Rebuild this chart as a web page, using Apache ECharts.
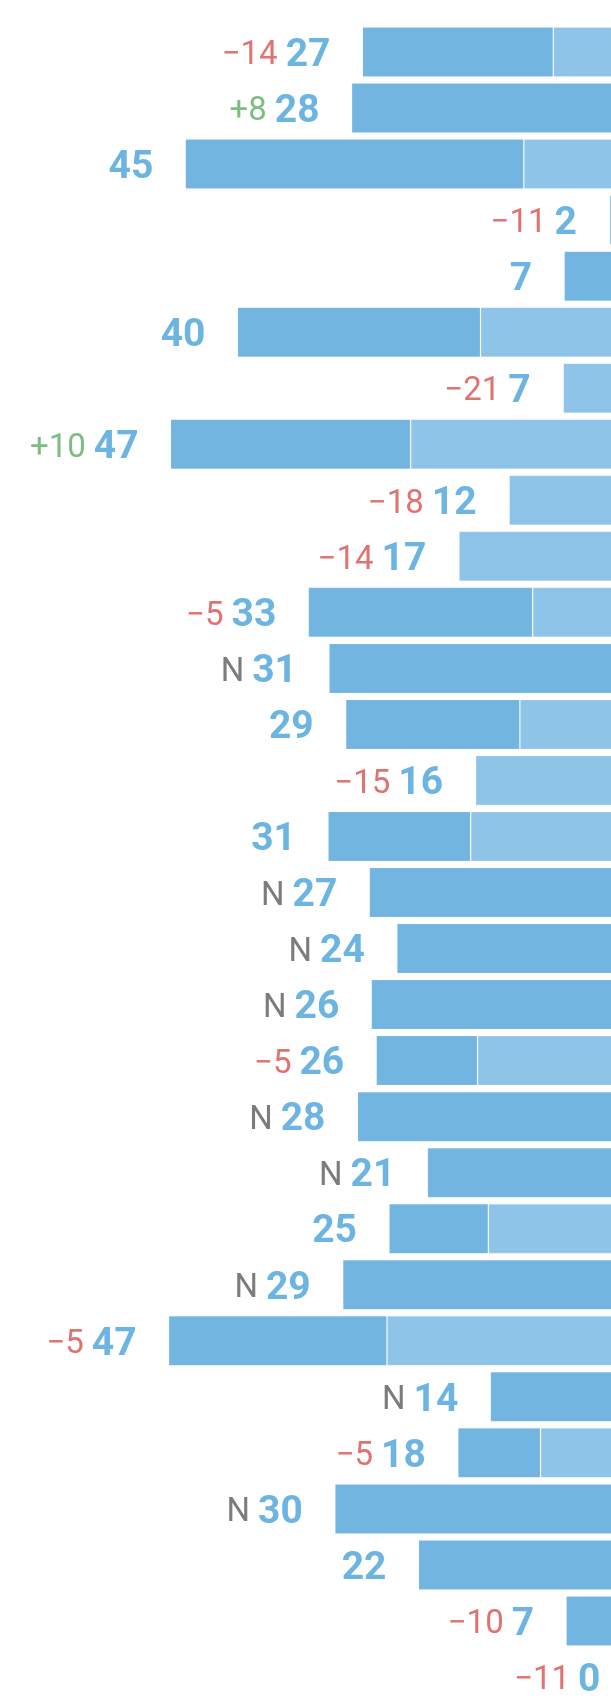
<!DOCTYPE html>
<html>
<head>
<meta charset="utf-8">
<script src="https://cdn.jsdelivr.net/npm/echarts@6/dist/echarts.min.js"></script>
<style>
  html, body { margin: 0; padding: 0; background: #fff; overflow: hidden; }
  /* chart is a bit wider than the window: the zero end of the bars sits just off the right edge */
  #main { width: 633px; height: 1708px; }
</style>
</head>
<body>
<div id="main"></div>
<script>
var categories = ['1','2','3','4','5','6','7','8','9','10','11','12','13','14','15',
                  '16','17','18','19','20','21','22','23','24','25','26','27','28','29','30'];
// printed values next to each bar
var shown = [27,28,45,2,7,40,7,47,12,17,33,31,29,16,31,27,24,26,26,28,21,25,29,47,14,18,30,22,7,0];
// change markers printed before the value
var change = ['−14','+8','','−11','','','−21','+10','−18','−14','−5','N','','−15','',
              'N','N','N','−5','N','N','','N','−5','N','−5','N','','−10','−11'];
// inner (light) part of each bar
var lightPart = [8.1,0,11.1,2.4,0,15.5,7.1,22.6,12.6,17.7,10.2,0,11.5,16.0,16.5,
                 0,0,0,15.8,0,0,14.7,0,25.0,0,9.4,0,0,0,0];
// outer (dark) part of each bar
var darkPart = [19.4,28.6,34.4,0,7.0,24.7,0,24.4,0,0,22.8,30.9,17.7,0,14.5,
                26.8,24.0,26.6,10.3,28.0,20.9,10.1,29.5,22.2,14.5,8.4,30.3,21.8,6.8,0];

var chart = echarts.init(document.getElementById('main'));

var option = {
    animation: false,
    grid: { left: 141, right: 0, top: 24, bottom: 3 },
    xAxis: {
        type: 'value', inverse: true, min: 0, max: 50,
        show: false, splitLine: { show: false }
    },
    yAxis: {
        type: 'category', inverse: true, data: categories, show: false
    },
    series: [
        {
            type: 'bar', stack: 'all', barWidth: 50,
            data: lightPart,
            itemStyle: { color: '#8ec4e7', borderColor: 'rgba(255,255,255,0.2)', borderWidth: 1 }
        },
        {
            type: 'bar', stack: 'all', barWidth: 50,
            data: darkPart,
            itemStyle: { color: '#72b5e0', borderColor: 'rgba(255,255,255,0.12)', borderWidth: 1 },
            label: {
                show: true,
                position: 'left',
                distance: 32,
                offset: [0, 4],
                formatter: function (p) {
                    var c = change[p.dataIndex];
                    var s = '';
                    if (c === 'N') s = '{n|N}';
                    else if (c.charAt(0) === '+') s = '{up|' + c + '}';
                    else if (c) s = '{down|' + c + '}';
                    return s + '{v|' + shown[p.dataIndex] + '}';
                },
                rich: {
                    v: { fontFamily: 'Roboto', fontWeight: 'bold', fontSize: 39, color: '#6cb4e1' },
                    down: { fontFamily: 'Roboto', fontSize: 33, color: '#e0736f', padding: [0, 8, 0, 0] },
                    up: { fontFamily: 'Roboto', fontSize: 33, color: '#7dbd82', padding: [0, 8, 0, 0] },
                    n: { fontFamily: 'Roboto', fontSize: 33, color: '#7c7c7c', padding: [0, 8, 0, 0] }
                }
            }
        }
    ]
};

chart.setOption(option);
window.onresize = chart.resize;
</script>
</body>
</html>
